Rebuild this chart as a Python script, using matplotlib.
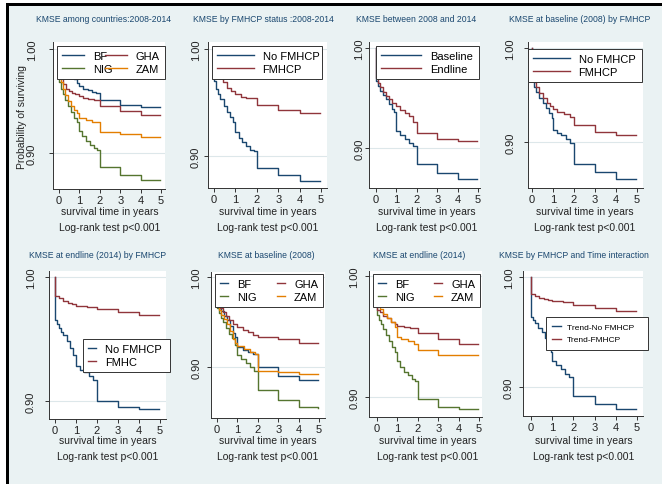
import matplotlib
matplotlib.use("Agg")
import matplotlib.pyplot as plt
from matplotlib.patches import Rectangle

plt.rcParams['font.family'] = ['Liberation Sans', 'DejaVu Sans']

# ---- data (time in years, survival probability) ----
# panel 1: among countries 2008-2014
p1_time_bf = [0, 0, 0.15, 0.3, 0.45, 0.6, 0.75, 0.9, 1.0, 1.2, 1.4, 1.6, 1.8, 2.0, 3.0, 4.0, 4.95]
p1_surv_bf = [1.0, 0.992, 0.987, 0.983, 0.979, 0.975, 0.971, 0.967, 0.964, 0.962, 0.961, 0.959, 0.958, 0.951, 0.946, 0.944, 0.944]
p1_time_gha = [0, 0, 0.1, 0.2, 0.35, 0.5, 0.65, 0.8, 1.0, 1.2, 1.4, 1.7, 2.0, 3.0, 4.0, 4.95]
p1_surv_gha = [1.0, 0.978, 0.972, 0.966, 0.962, 0.96, 0.958, 0.957, 0.955, 0.953, 0.952, 0.951, 0.945, 0.940, 0.9365, 0.9365]
p1_time_zam = [0, 0, 0.1, 0.2, 0.3, 0.45, 0.6, 0.75, 0.9, 1.0, 1.3, 1.6, 2.0, 3.0, 4.0, 4.95]
p1_surv_zam = [1.0, 0.975, 0.968, 0.962, 0.956, 0.950, 0.945, 0.941, 0.938, 0.934, 0.932, 0.930, 0.920, 0.9185, 0.9157, 0.9157]
p1_time_nig = [0, 0, 0.1, 0.2, 0.3, 0.45, 0.6, 0.75, 0.9, 1.0, 1.15, 1.3, 1.5, 1.7, 1.85, 2.0, 3.0, 4.0, 4.95]
p1_surv_nig = [1.0, 0.968, 0.962, 0.957, 0.951, 0.945, 0.939, 0.934, 0.930, 0.921, 0.916, 0.912, 0.908, 0.905, 0.903, 0.887, 0.879, 0.874, 0.874]

# panel 2: by FMHCP status 2008-2014
p2_time_no = [0, 0, 0.1, 0.2, 0.3, 0.45, 0.6, 0.75, 0.9, 1.0, 1.15, 1.3, 1.5, 1.7, 1.85, 2.0, 3.0, 4.0, 4.95]
p2_surv_no = [1.0, 0.97, 0.963, 0.958, 0.953, 0.947, 0.941, 0.936, 0.932, 0.922, 0.917, 0.913, 0.909, 0.906, 0.905, 0.889, 0.882, 0.877, 0.877]
p2_time_fm = [0, 0, 0.2, 0.4, 0.6, 0.8, 1.0, 1.25, 1.5, 2.0, 3.0, 4.0, 4.95]
p2_surv_fm = [1.0, 0.978, 0.974, 0.969, 0.964, 0.961, 0.958, 0.955, 0.954, 0.948, 0.943, 0.940, 0.940]

# panel 3: baseline vs endline
p3_time_base = [0, 0, 0.1, 0.2, 0.35, 0.5, 0.65, 0.8, 0.9, 1.0, 1.2, 1.4, 1.6, 1.8, 2.0, 3.0, 4.0, 4.95]
p3_surv_base = [1.0, 0.967, 0.962, 0.957, 0.953, 0.949, 0.944, 0.939, 0.936, 0.917, 0.913, 0.909, 0.905, 0.902, 0.884, 0.875, 0.869, 0.869]
p3_time_end = [0, 0, 0.1, 0.2, 0.35, 0.5, 0.65, 0.8, 1.0, 1.2, 1.4, 1.6, 1.8, 2.0, 3.0, 4.0, 4.95]
p3_surv_end = [1.0, 0.97, 0.965, 0.961, 0.956, 0.952, 0.949, 0.945, 0.942, 0.938, 0.935, 0.932, 0.926, 0.915, 0.909, 0.907, 0.907]

# panel 4: baseline (2008) by FMHCP
p4_time_no = [0, 0, 0.1, 0.2, 0.35, 0.5, 0.65, 0.8, 0.95, 1.0, 1.2, 1.4, 1.6, 1.8, 2.0, 3.0, 4.0, 4.95]
p4_surv_no = [1.0, 0.966, 0.959, 0.953, 0.947, 0.941, 0.936, 0.931, 0.926, 0.913, 0.910, 0.907, 0.903, 0.899, 0.877, 0.868, 0.861, 0.861]
p4_time_fm = [0, 0, 0.1, 0.2, 0.35, 0.5, 0.7, 0.85, 1.0, 1.2, 1.5, 1.8, 2.0, 3.0, 4.0, 4.95]
p4_surv_fm = [1.0, 0.97, 0.964, 0.958, 0.952, 0.947, 0.942, 0.938, 0.935, 0.932, 0.930, 0.927, 0.918, 0.911, 0.907, 0.907]

# panel 5: endline (2014) by FMHCP
p5_time_no = [0, 0, 0.1, 0.2, 0.3, 0.4, 0.55, 0.7, 0.85, 1.0, 1.2, 1.4, 1.6, 1.8, 2.0, 3.0, 4.0, 4.95]
p5_surv_no = [1.0, 0.965, 0.962, 0.959, 0.956, 0.953, 0.948, 0.943, 0.937, 0.928, 0.925, 0.923, 0.920, 0.917, 0.900, 0.895, 0.8935, 0.8935]
p5_time_fm = [0, 0, 0.2, 0.4, 0.6, 0.8, 1.0, 1.5, 2.0, 3.0, 4.0, 4.95]
p5_surv_fm = [1.0, 0.985, 0.983, 0.981, 0.979, 0.978, 0.977, 0.976, 0.974, 0.972, 0.969, 0.969]

# panel 6: baseline (2008) by country
p6_time_bf = [0, 0, 0.1, 0.2, 0.35, 0.5, 0.65, 0.8, 0.9, 1.0, 1.25, 1.5, 1.75, 2.0, 3.0, 4.0, 4.95]
p6_surv_bf = [1.0, 0.97, 0.966, 0.962, 0.957, 0.952, 0.946, 0.938, 0.933, 0.922, 0.919, 0.917, 0.915, 0.900, 0.890, 0.886, 0.886]
p6_time_gha = [0, 0, 0.15, 0.3, 0.45, 0.6, 0.8, 1.0, 1.25, 1.5, 1.75, 2.0, 3.0, 4.0, 4.95]
p6_surv_gha = [1.0, 0.972, 0.966, 0.961, 0.957, 0.952, 0.948, 0.944, 0.941, 0.939, 0.936, 0.933, 0.931, 0.927, 0.927]
p6_time_zam = [0, 0, 0.1, 0.2, 0.35, 0.5, 0.65, 0.8, 0.9, 1.0, 1.3, 1.6, 1.85, 2.0, 3.0, 4.0, 4.95]
p6_surv_zam = [1.0, 0.968, 0.963, 0.958, 0.953, 0.948, 0.940, 0.931, 0.927, 0.923, 0.920, 0.917, 0.915, 0.896, 0.8946, 0.892, 0.892]
p6_time_nig = [0, 0, 0.1, 0.2, 0.3, 0.45, 0.6, 0.75, 0.9, 1.0, 1.2, 1.4, 1.6, 1.8, 2.0, 3.0, 4.0, 4.95]
p6_surv_nig = [1.0, 0.966, 0.96, 0.955, 0.950, 0.943, 0.937, 0.932, 0.925, 0.913, 0.909, 0.904, 0.900, 0.896, 0.874, 0.863, 0.856, 0.855]

# panel 7: endline (2014) by country (no BF curve visible)
p7_time_bf = []
p7_surv_bf = []
p7_time_gha = [0, 0, 0.15, 0.3, 0.5, 0.7, 0.9, 1.0, 1.3, 1.6, 2.0, 3.0, 4.0, 4.95]
p7_surv_gha = [1.0, 0.972, 0.970, 0.967, 0.965, 0.962, 0.960, 0.959, 0.958, 0.957, 0.953, 0.948, 0.944, 0.944]
p7_time_zam = [0, 0, 0.15, 0.3, 0.5, 0.7, 0.9, 1.0, 1.2, 1.5, 1.8, 2.0, 3.0, 4.0, 4.95]
p7_surv_zam = [1.0, 0.976, 0.973, 0.969, 0.965, 0.962, 0.958, 0.9496, 0.948, 0.946, 0.944, 0.9385, 0.935, 0.9347, 0.9347]
p7_time_nig = [0, 0, 0.1, 0.2, 0.3, 0.45, 0.6, 0.75, 0.9, 1.0, 1.15, 1.3, 1.5, 1.7, 1.85, 2.0, 3.0, 4.0, 4.95]
p7_surv_nig = [1.0, 0.968, 0.964, 0.960, 0.956, 0.951, 0.946, 0.941, 0.937, 0.930, 0.925, 0.921, 0.918, 0.915, 0.913, 0.898, 0.892, 0.890, 0.890]

# panel 8: FMHCP x time interaction
p8_time_no = [0, 0, 0.1, 0.2, 0.35, 0.5, 0.65, 0.8, 0.95, 1.0, 1.2, 1.4, 1.6, 1.8, 2.0, 3.0, 4.0, 4.95]
p8_surv_no = [1.0, 0.964, 0.961, 0.958, 0.954, 0.950, 0.945, 0.938, 0.932, 0.924, 0.920, 0.916, 0.912, 0.909, 0.892, 0.885, 0.880, 0.880]
p8_time_fm = [0, 0, 0.2, 0.4, 0.6, 0.8, 1.0, 1.5, 2.0, 3.0, 4.0, 4.95]
p8_surv_fm = [1.0, 0.985, 0.983, 0.981, 0.980, 0.979, 0.978, 0.977, 0.975, 0.972, 0.9695, 0.9695]

titles = ["KMSE among countries:2008-2014", "KMSE by FMHCP status :2008-2014",
          "KMSE between 2008 and 2014", "KMSE at baseline (2008) by FMHCP",
          "KMSE at endline (2014) by FMHCP", "KMSE at baseline (2008)",
          "KMSE at endline (2014)", "KMSE by FMHCP and Time interaction"]

# Stata s2color palette
NAVY, MAROON, GREEN, ORANGE = '#1a476f', '#90353b', '#55752f', '#e37e00'
BG = '#eaf2f3'

W, H = 662, 485
fig = plt.figure(figsize=(W / 100, H / 100), dpi=100, facecolor=BG)

def fx(x):
    return x / W

def fy(y):
    return 1 - y / H

# layout in pixels: left, right, top, bottom, y(1.00), y(0.90), x(0), x(5)
geom = [
    (53, 165, 43, 190, 50, 154, 59, 161),
    (208, 327, 43, 189, 50, 157, 214, 321),
    (369, 480, 43, 189, 49, 149, 376, 478),
    (528, 643, 43, 189, 49, 143, 532, 637),
    (49, 166, 272, 420, 278, 402, 55, 160),
    (211, 325, 273, 419, 278, 368, 217, 319),
    (369, 482, 272, 418, 277, 398, 377, 479),
    (523, 643, 272, 417, 278, 388, 531, 637),
]
ytick_pad = [8.5, 2, 0.5, 6, 6.5, 4, 4, 3.5]
title_pos = [(104, 19), (263, 19), (416, 19), (580, 19),
             (98, 255), (266, 255), (419, 255), (574, 255)]
# legend boxes: x0, x1, y_top
leg_box = [(57, 165, 47), (212, 322, 47), (376, 479, 47), (528, 642, 50),
           (83, 170, 340), (215, 323, 275), (373, 480, 275), (546, 648, 318)]
leg_handle = [2.0, 3.3, 3.6, 3.3, 0.7, 0.7, 0.7, 1.0]

curves = [
    [(p1_time_bf, p1_surv_bf, NAVY, 'BF'), (p1_time_nig, p1_surv_nig, GREEN, 'NIG'),
     (p1_time_gha, p1_surv_gha, MAROON, 'GHA'), (p1_time_zam, p1_surv_zam, ORANGE, 'ZAM')],
    [(p2_time_no, p2_surv_no, NAVY, 'No FMHCP'), (p2_time_fm, p2_surv_fm, MAROON, 'FMHCP')],
    [(p3_time_base, p3_surv_base, NAVY, 'Baseline'), (p3_time_end, p3_surv_end, MAROON, 'Endline')],
    [(p4_time_no, p4_surv_no, NAVY, 'No FMHCP'), (p4_time_fm, p4_surv_fm, MAROON, 'FMHCP')],
    [(p5_time_no, p5_surv_no, NAVY, 'No FMHCP'), (p5_time_fm, p5_surv_fm, MAROON, 'FMHC')],
    [(p6_time_bf, p6_surv_bf, NAVY, 'BF'), (p6_time_nig, p6_surv_nig, GREEN, 'NIG'),
     (p6_time_gha, p6_surv_gha, MAROON, 'GHA'), (p6_time_zam, p6_surv_zam, ORANGE, 'ZAM')],
    [(p7_time_bf, p7_surv_bf, NAVY, 'BF'), (p7_time_nig, p7_surv_nig, GREEN, 'NIG'),
     (p7_time_gha, p7_surv_gha, MAROON, 'GHA'), (p7_time_zam, p7_surv_zam, ORANGE, 'ZAM')],
    [(p8_time_no, p8_surv_no, NAVY, 'Trend-No FMHCP'), (p8_time_fm, p8_surv_fm, MAROON, 'Trend-FMHCP')],
]

for i in range(8):
    l, r, t, b, y100, y90, x0, x5 = geom[i]
    ax = fig.add_axes([fx(l), fy(b), (r - l) / W, (b - t) / H])
    ax.set_facecolor('white')
    s = (x5 - x0) / 5
    k = (y90 - y100) / 0.1
    ax.set_xlim((l - x0) / s, (r - x0) / s)
    ax.set_ylim(0.9 - (b - y90) / k, 1 + (y100 - t) / k)

    for yy in [0.9, 1.0]:
        ax.axhline(yy, color='#dde7ea', lw=0.8, zorder=0)

    for tt, ss, col, lab in curves[i]:
        ax.plot(tt, ss, drawstyle='steps-post', color=col, lw=1.0, label=lab)

    ax.set_xticks(range(6))
    ax.set_yticks([0.9, 1.0])
    ax.set_yticklabels(['0.90', '1.00'], rotation=90, va='center')
    ax.tick_params(direction='out', length=3, width=0.7, colors='#333333',
                   labelcolor='#222222', labelsize=8, pad=1.5)
    ax.tick_params(axis='y', pad=ytick_pad[i])
    for side in ['top', 'right']:
        ax.spines[side].set_visible(False)
    for side in ['left', 'bottom']:
        ax.spines[side].set_color('#333333')
        ax.spines[side].set_linewidth(0.7)

    # legend
    bx0, bx1, by = leg_box[i]
    four = len(curves[i]) == 4
    fs = 6 if i == 7 else 8
    leg = ax.legend(loc='upper left', bbox_to_anchor=(fx(bx0), fy(by), (bx1 - bx0) / W, 0.001),
                    bbox_transform=fig.transFigure, mode='expand', borderaxespad=0,
                    ncol=2 if four else 1, fontsize=fs, frameon=True, fancybox=False,
                    framealpha=1, handlelength=leg_handle[i], handletextpad=0.8,
                    labelspacing=0.6 if i == 7 else 0.3,
                    borderpad=0.75 if i == 7 else 0.45, columnspacing=1.0)
    leg.get_frame().set_edgecolor('#333333')
    leg.get_frame().set_linewidth(0.7)
    leg.set_zorder(10)

    cx = (x0 + x5) / 2
    base = 212 if i < 4 else 441
    fig.text(fx(title_pos[i][0]), fy(title_pos[i][1]), titles[i], ha='center', va='center',
             fontsize=6.2, color=NAVY)
    fig.text(fx(cx), fy(base), 'survival time in years', ha='center', va='center',
             fontsize=7.5, color='#222222')
    fig.text(fx(cx), fy(base + 16), 'Log-rank test p<0.001', ha='center', va='center',
             fontsize=7.5, color='#222222')

fig.text(fx(22), fy(117), 'Probability of surviving', rotation=90, ha='center', va='center',
         fontsize=7.5, color='#222222')

# white margin and black frame at top and left
fig.add_artist(Rectangle((0, fy(4)), 1, 4 / H, transform=fig.transFigure,
                         facecolor='white', edgecolor='none'))
fig.add_artist(Rectangle((0, 0), 6 / W, 1, transform=fig.transFigure,
                         facecolor='white', edgecolor='none'))
fig.add_artist(Rectangle((fx(6), fy(7)), 1, 3 / H, transform=fig.transFigure,
                         facecolor='black', edgecolor='none'))
fig.add_artist(Rectangle((fx(6), 0), 3 / W, fy(4), transform=fig.transFigure,
                         facecolor='black', edgecolor='none'))

fig.savefig('out.png', dpi=100, facecolor=BG)
